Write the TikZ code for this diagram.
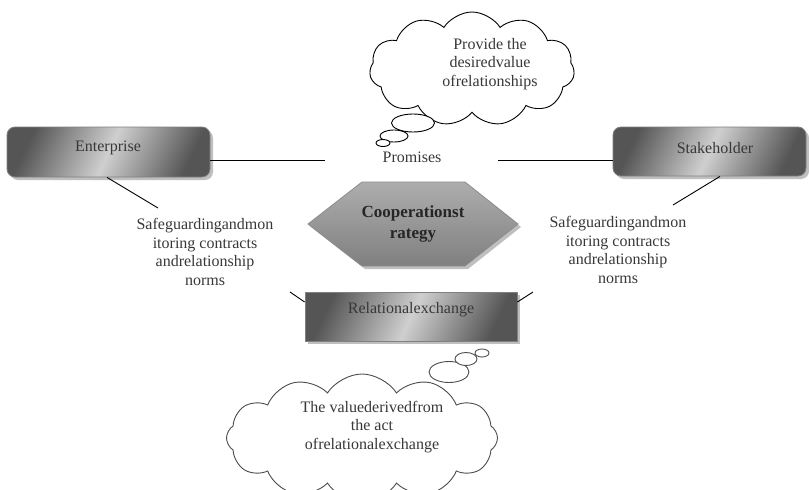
\documentclass[tikz,border=0pt]{standalone}
\usepackage{fontspec}
\setmainfont{Liberation Serif}
\usetikzlibrary{shapes.symbols,shapes.geometric,shadows,calc}
\definecolor{txt}{HTML}{383838}
\definecolor{boxdark}{HTML}{555555}
\definecolor{boxlight}{HTML}{CFCFCF}
\tikzset{
  lbl/.style={text=txt, font=\fontsize{16}{18.5}\selectfont, align=center, inner sep=0pt},
  boldlbl/.style={lbl, font=\fontsize{17}{21}\selectfont\bfseries, text=black!85},
  panel/.style={draw=black!50, line width=0.8pt,
    top color=boxdark, bottom color=boxdark, middle color=boxlight, shading angle=65,
    drop shadow={shadow xshift=3pt, shadow yshift=-3pt, fill=black, opacity=0.25},
    inner sep=0pt},
  hexshape/.style={draw=black!45, line width=0.8pt,
    top color=black!32, middle color=black!8, bottom color=black!50,
    drop shadow={shadow xshift=3pt, shadow yshift=-3pt, fill=black, opacity=0.25}},
  thought/.style={cloud, cloud puffs=11, cloud puff arc=115, draw=black, line width=0.9pt,
    fill=white, inner sep=0pt},
  bubble/.style={ellipse, draw=black, line width=0.9pt, fill=white, inner sep=0pt},
  conn/.style={draw=black, line width=0.9pt},
}
\begin{document}
\begin{tikzpicture}[x=1pt, y=-1pt]
\useasboundingbox (0,0) rectangle (809,490);
\begin{scope}
\clip (0,0) rectangle (809,490);

% top thought cloud
\node[thought, minimum width=205pt, minimum height=114pt] (cloudtop) at (472,69) {};
\node[bubble, minimum width=43pt, minimum height=18pt] (bt1) at (413,123) {};
\node[bubble, minimum width=28pt, minimum height=12pt] (bt2) at (394,136) {};
\node[bubble, minimum width=14pt, minimum height=7pt] (bt3) at (383,143) {};
\node[lbl] (provide) at (490,64) {Provide the\\desiredvalue\\ofrelationships};
\node[lbl] (promises) at (412,157) {Promises};

% parties
\node[panel, rounded corners=8pt, minimum width=203pt, minimum height=50pt] (ent) at (108.5,152) {};
\node[lbl] (enttext) at (108,148) {Enterprise};
\node[panel, rounded corners=8pt, minimum width=193pt, minimum height=49pt] (stake) at (709.5,151.5) {};
\node[lbl] (staketext) at (715,148) {Stakeholder};

\coordinate (pl) at (325,160);
\coordinate (pr) at (498,160);
\draw[conn] ([yshift=-8pt]ent.east) -- (pl);
\draw[conn] (pr) -- ([yshift=-8.5pt]stake.west);

% safeguarding labels
\node[lbl] (safel) at (205,252) {Safeguardingandmon\\itoring contracts\\andrelationship\\norms};
\node[lbl] (safer) at (618,250) {Safeguardingandmon\\itoring contracts\\andrelationship\\norms};
\coordinate (sl) at (158,208);
\coordinate (sr) at (673,205);
\draw[conn] ([xshift=-1.5pt]ent.south) -- (sl);
\draw[conn] ([xshift=10.5pt]stake.south) -- (sr);

% cooperation strategy hexagon
\path[hexshape] (308,224) -- (362,182) -- (465,182) -- (518,224) -- (465,266) -- (362,266) -- cycle;
\node[boldlbl] (coop) at (413,224) {Cooperationst\\rategy};

% relational exchange
\node[panel, minimum width=212pt, minimum height=49pt] (rel) at (411,316.5) {};
\node[lbl] (reltext) at (411,310) {Relationalexchange};
\coordinate (rl) at (290,292);
\coordinate (rr) at (533,292);
\draw[conn] (rl) -- ([yshift=14.5pt]rel.west);
\draw[conn] ([yshift=14.5pt]rel.east) -- (rr);

% bottom thought cloud
\node[thought, draw=black!70, cloud puffs=12, minimum width=271pt, minimum height=128pt] (cloudbot) at (362,438) {};
\node[bubble, draw=black!70, minimum width=40pt, minimum height=21pt] (bb1) at (449,372) {};
\node[bubble, draw=black!70, minimum width=22pt, minimum height=13pt] (bb2) at (466,359) {};
\node[bubble, draw=black!70, minimum width=14pt, minimum height=8pt] (bb3) at (482,353) {};
\node[lbl] (derived) at (372,427) {The valuederivedfrom\\the act\\ofrelationalexchange};
\end{scope}
\end{tikzpicture}
\end{document}
